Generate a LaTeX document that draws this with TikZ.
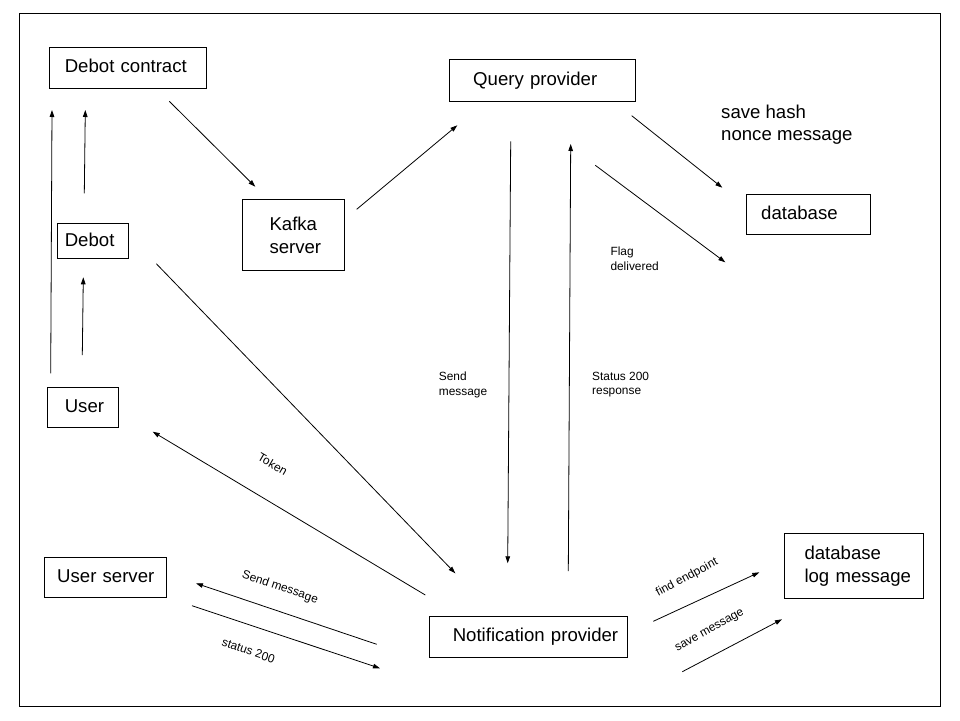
\documentclass[tikz,border=0pt]{standalone}
\usepackage{fontspec}
\setmainfont{Liberation Sans}
\usetikzlibrary{arrows.meta}
\begin{document}
\begin{tikzpicture}[x=1pt,y=-1pt,
  box/.style={draw=black,line width=1pt,anchor=north west,inner xsep=0pt,inner ysep=0pt,
    align=left,font=\fontsize{18.6}{22.6}\selectfont},
  onebox/.style={box,text height=13.6pt,text depth=3.9pt},
  conn/.style={line width=0.8pt,-{Triangle[length=7pt,width=4.6pt]}},
  small/.style={inner sep=0pt,font=\fontsize{11.9}{14.2}\selectfont,align=left},
  big/.style={inner sep=0pt,font=\fontsize{18.6}{22.2}\selectfont,align=left}]
\useasboundingbox (0,0) rectangle (960,720);
\draw[line width=1.2pt] (19.5,13.5) rectangle (940.7,706.7);

% boxes: NW corner, width w, height h, left pad
\node[onebox,text width=156.7pt,minimum height=40.4pt] (dc) at (49,47.3) {\hspace*{15.3pt}Debot contract};
\node[onebox,text width=185.4pt,minimum height=42pt] (qp) at (449.3,59.3) {\hspace*{23.4pt}Query provider};
\node[box,text width=101.7pt,minimum height=71pt] (kf) at (242,199.3) {\hspace*{27pt}Kafka\\\hspace*{27pt}server};
\node[onebox,text width=71pt,minimum height=35pt] (db) at (57.3,223.3) {\hspace*{7pt}Debot};
\node[onebox,text width=123.4pt,minimum height=40pt] (dbase) at (746.3,194.3) {\hspace*{14.4pt}database};
\node[onebox,text width=71pt,minimum height=40pt] (us) at (47.3,387.3) {\hspace*{17pt}User};
\node[onebox,text width=122pt,minimum height=40pt] (usrv) at (44.3,557.3) {\hspace*{12.4pt}User server};
\node[onebox,text width=198pt,minimum height=41.6pt] (np) at (429.3,615.7) {\hspace*{23pt}Notification provider};
\node[box,text width=139pt,minimum height=65pt] (dlog) at (784.3,533.3) {\hspace*{19.7pt}database\\\hspace*{19.7pt}log message};

\node[big,anchor=north west] (hash) at (721,104.7) {save hash\\nonce message};

% arrow end points
\coordinate (a1s) at (169.3,101.3); \coordinate (a1e) at (255.3,186.7);
\coordinate (a2s) at (356.7,209.3); \coordinate (a2e) at (457.3,125.3);
\coordinate (a3s) at (50.7,373.3);  \coordinate (a3e) at (52,110);
\coordinate (a4s) at (84.3,193.3);  \coordinate (a4e) at (85.3,110);
\coordinate (a5s) at (82.3,355);    \coordinate (a5e) at (83.3,277.3);
\coordinate (a6s) at (156.3,263.7); \coordinate (a6e) at (455.3,573.3);
\coordinate (a7s) at (425.3,595);   \coordinate (a7e) at (152.7,431.7);
\coordinate (a8s) at (376.7,644.3); \coordinate (a8e) at (196,583.3);
\coordinate (a9s) at (192,605.7);   \coordinate (a9e) at (380,668.3);
\coordinate (a10s) at (510.7,141.3); \coordinate (a10e) at (507.7,563.3);
\coordinate (a11s) at (568.3,571);   \coordinate (a11e) at (570.7,144);
\coordinate (a12s) at (631.7,115.7); \coordinate (a12e) at (722.3,187.7);
\coordinate (a13s) at (595.3,165.3); \coordinate (a13e) at (725.3,262.3);
\coordinate (a14s) at (653.3,621.3); \coordinate (a14e) at (759.3,572.3);
\coordinate (a15s) at (682.3,671.7); \coordinate (a15e) at (782,619.3);

\foreach \i in {1,...,15} \draw[conn] (a\i s) -- (a\i e);

% labels
\node[small,rotate=-30] (ltok) at (272.7,464) {Token};
\node[small,rotate=-19] (lsm) at (280,587.5) {Send message};
\node[small,rotate=-19] (ls2) at (248.5,650.5) {status 200};
\node[small,rotate=28] (lfe) at (687,577.5) {find endpoint};
\node[small,rotate=29] (lsv) at (710,631) {save message};
\node[small,anchor=north west] (lsend) at (438.7,372) {Send\\message};
\node[small,anchor=north west] (lst) at (592,372) {Status 200\\response};
\node[small,anchor=north west] (lfl) at (610.3,247) {Flag\\delivered};
\end{tikzpicture}
\end{document}
